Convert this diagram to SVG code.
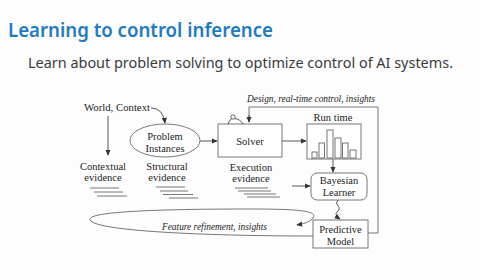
<svg xmlns="http://www.w3.org/2000/svg" width="480" height="280" viewBox="0 0 480 280">
<style>
.title{font-family:"Noto Sans","Open Sans",sans-serif;font-weight:600;font-size:19px;fill:#1f7bc1}
.sub{font-family:"Noto Sans","Open Sans",sans-serif;font-size:15px;fill:#3a3a3a}
.t{font-family:"Liberation Serif","Times New Roman",serif;font-size:10.5px;fill:#222;text-anchor:middle}
.i{font-family:"Liberation Serif","Times New Roman",serif;font-size:10px;font-style:italic;fill:#222}
.box{fill:#fff;stroke:#777;stroke-width:1}
.ln{fill:none;stroke:#444;stroke-width:0.9}
.ev{stroke:#666;stroke-width:0.9}
</style>
<defs>
<marker id="ah" viewBox="0 0 8 8" refX="7" refY="4" markerWidth="6" markerHeight="6" orient="auto" markerUnits="userSpaceOnUse">
<path d="M0,0.5 L8,4 L0,7.5 Z" fill="#333"/>
</marker>
</defs>
<rect width="480" height="280" fill="#fdfdfd"/>
<text class="title" x="8" y="37" textLength="265" lengthAdjust="spacingAndGlyphs">Learning to control inference</text>
<text class="sub" x="28" y="68" textLength="425" lengthAdjust="spacingAndGlyphs">Learn about problem solving to optimize control of AI systems.</text>

<g id="connectors">
<path class="ln" d="M108,116 L108,155" marker-end="url(#ah)"/>
<path class="ln" d="M151,108 Q163,108 165,123" marker-end="url(#ah)"/>
<path class="ln" d="M200,141 L217,141" marker-end="url(#ah)"/>
<path class="ln" d="M282,141 L306,141" marker-end="url(#ah)"/>
<path class="ln" d="M333,159 L333,172" marker-end="url(#ah)"/>
<path class="ln" d="M292,186 L310,186" marker-end="url(#ah)"/>
<path class="ln" d="M338,200 q-3,3 0,6 q3,3 -1,6 q-3,3 3,7" marker-end="url(#ah)"/>
<path class="box" style="fill:none" d="M368,233 L378,233 L378,107 L249,107 L249,122"/>
<path class="ln" d="M249,115 L249,122" marker-end="url(#ah)"/>
<path class="ln" style="stroke:#666" d="M313,236 C220,236 96,232 90,220 C86,212 150,209 250,209 C300,209 318,211 313,218 C310,222 303,224 297,225" marker-end="url(#ah)"/>
</g>

<g id="world-context"><text class="t" x="117" y="111" textLength="66" lengthAdjust="spacingAndGlyphs">World, Context</text></g>

<g id="problem-instances">
<ellipse class="box" cx="165" cy="140.5" rx="35" ry="16.5"/>
<text class="t" x="165" y="139.5">Problem</text>
<text class="t" x="165" y="151.5">Instances</text>
</g>

<g id="solver">
<rect class="box" x="218" y="124" width="64" height="33"/>
<text class="t" x="250" y="145">Solver</text>
<circle cx="233" cy="117" r="2.2" fill="none" stroke="#444" stroke-width="0.8"/>
<path class="ln" d="M234.5,118.5 Q240,119 243,124 M231.5,118.5 Q229,121 228,124"/>
</g>

<g id="run-time">
<text class="t" x="333" y="121">Run time</text>
<rect class="box" x="307" y="124" width="54" height="35"/>
<g fill="#fff" stroke="#666" stroke-width="0.9">
<rect x="312" y="152" width="5" height="6"/>
<rect x="319" y="143" width="5.5" height="15"/>
<rect x="327" y="130" width="6" height="28"/>
<rect x="335" y="138" width="6" height="20"/>
<rect x="342.5" y="143" width="5.5" height="15"/>
<rect x="350" y="150" width="6" height="8"/>
</g>
</g>

<g id="bayesian-learner">
<rect class="box" x="311" y="173" width="56" height="27" rx="6"/>
<text class="t" x="339" y="184">Bayesian</text>
<text class="t" x="339" y="196">Learner</text>
</g>

<g id="predictive-model">
<rect class="box" x="313" y="220" width="55" height="28"/>
<text class="t" x="340.5" y="233">Predictive</text>
<text class="t" x="340.5" y="245">Model</text>
</g>

<g id="contextual-evidence">
<text class="t" x="103" y="170">Contextual</text>
<text class="t" x="103" y="181">evidence</text>
<path class="ev" d="M90,188 H119 M94,192 H123 M97,196 H127"/>
</g>
<g id="structural-evidence">
<text class="t" x="167" y="170">Structural</text>
<text class="t" x="167" y="181">evidence</text>
<path class="ev" d="M156,187 H185 M160,191 H188 M163,194.5 H193 M169,198 H198"/>
</g>
<g id="execution-evidence">
<text class="t" x="251" y="171">Execution</text>
<text class="t" x="251" y="181.5">evidence</text>
<path class="ev" d="M235,188 H268 M238,191 H271 M244,194 H276 M247,197 H280"/>
</g>

<g id="labels">
<text class="i" x="247" y="102" textLength="128" lengthAdjust="spacingAndGlyphs">Design, real-time control, insights</text>
<text class="i" x="162" y="230" textLength="105" lengthAdjust="spacingAndGlyphs">Feature refinement, insights</text>
</g>
</svg>
